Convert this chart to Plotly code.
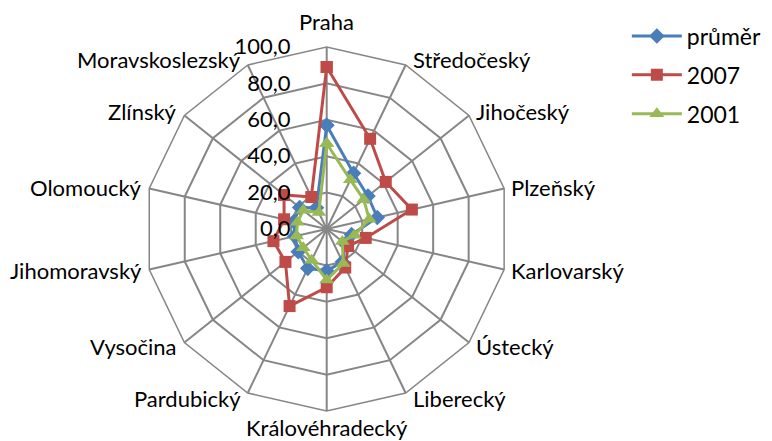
import math
import plotly.graph_objects as go

categories = ["Praha", "Středočeský", "Jihočeský", "Plzeňský", "Karlovarský", "Ústecký",
              "Liberecký", "Královéhradecký", "Pardubický", "Vysočina", "Jihomoravský",
              "Olomoucký", "Zlínský", "Moravskoslezský"]
prumer = [57, 34, 29, 28.5, 14, 13, 20, 23, 24, 20, 18, 18.5, 19, 13]
y2007 = [89, 55, 41.5, 48, 22, 15, 23.5, 32, 47, 29, 30, 24, 30, 19.5]
y2001 = [47, 30, 26, 24, 15.5, 11, 21, 28, 19, 16.5, 17, 16.5, 16.5, 10]
tick_vals = [0, 20, 40, 60, 80, 100]
tick_text = ["0,0", "20,0", "40,0", "60,0", "80,0", "100,0"]

FONT = "Lato"
GRID = "#868686"

def closed(v):
    return v + [v[0]]

cats_c = categories + [categories[0]]

fig = go.Figure()
series = [
    ("průměr", prumer, "#4A7EBB", "diamond", 12),
    ("2007", y2007, "#BE4B48", "square", 12),
    ("2001", y2001, "#98B954", "triangle-up", 13),
]
for i, (name, vals, col, sym, sz) in enumerate(series):
    fig.add_trace(go.Scatterpolar(
        r=closed(vals), theta=cats_c, name=name, mode="lines+markers",
        line=dict(color=col, width=3),
        marker=dict(symbol=sym, size=sz, color=col),
        legendgroup=str(i),
    ))

# page body adds an 8px offset; figure coords = screen coords - 8
W, H = 764, 433
cx, cy, R = 318.7, 221, 182

# category labels placed Excel-style next to each outer vertex
n = len(categories)
for i, name in enumerate(categories):
    th = math.radians(i * 360.0 / n)
    s, c = math.sin(th), math.cos(th)
    vx, vy = cx + R * s, cy - R * c
    if abs(s) < 1e-6:
        lx, ly, xa = vx, (vy - 25) if c > 0 else (vy + 16), "center"
    else:
        lx = vx + (5 if s > 0 else -5)
        ly = vy - 6 * c
        xa = "left" if s > 0 else "right"
    fig.add_annotation(text=name, x=lx / W, y=1 - ly / H, xref="paper", yref="paper",
                       xanchor=xa, yanchor="middle", showarrow=False,
                       font=dict(family=FONT, size=22, color="black"))

fig.update_layout(
    width=W, height=H,
    margin=dict(l=0, r=0, t=0, b=0),
    paper_bgcolor="white",
    font=dict(family=FONT, size=22, color="black"),
    showlegend=True,
    legend=dict(x=0.81, y=0.985, xanchor="left", yanchor="top",
                font=dict(family=FONT, size=23), tracegroupgap=6, itemwidth=50,
                bgcolor="rgba(0,0,0,0)"),
    polar=dict(
        domain=dict(x=[(cx - R) / W, (cx + R) / W], y=[(H - cy - R) / H, (H - cy + R) / H]),
        bgcolor="white",
        gridshape="linear",
        angularaxis=dict(direction="clockwise", rotation=90,
                         linecolor=GRID, linewidth=1.5, gridcolor=GRID, gridwidth=1.5,
                         showline=True, ticks="", showticklabels=False),
        radialaxis=dict(range=[0, 100], angle=90, tickvals=tick_vals, ticktext=tick_text,
                        showline=False, ticks="outside", ticklen=28, tickcolor="rgba(0,0,0,0)",
                        gridcolor=GRID, gridwidth=1.5,
                        tickfont=dict(family=FONT, size=22, color="black"),
                        side="counterclockwise", tickangle=90),
    ),
)
fig.write_html("out.html")
